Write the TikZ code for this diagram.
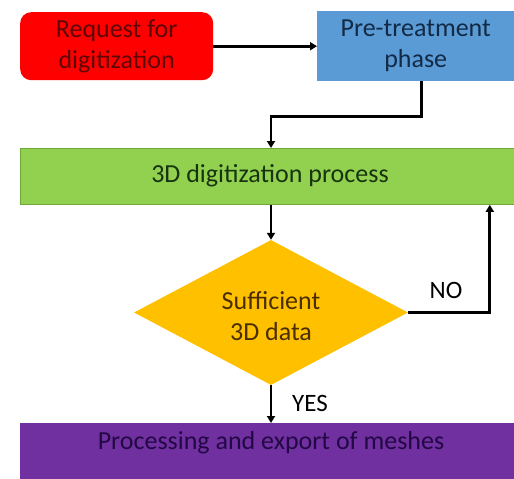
\documentclass[tikz,border=0pt]{standalone}
\usepackage{fontspec}
\setmainfont{Carlito}
\usetikzlibrary{shapes.geometric,arrows.meta,calc}
\definecolor{cred}{HTML}{FF0000}
\definecolor{credtxt}{HTML}{5E0606}
\definecolor{cblue}{HTML}{5B9BD5}
\definecolor{cbluetxt}{HTML}{122A46}
\definecolor{cgreen}{HTML}{92D050}
\definecolor{cgreenbd}{HTML}{6EA83A}
\definecolor{cgreentxt}{HTML}{173310}
\definecolor{cgold}{HTML}{FFC000}
\definecolor{cgoldtxt}{HTML}{4A2E00}
\definecolor{cpurple}{HTML}{7030A0}
\definecolor{cpurpletxt}{HTML}{220844}
\begin{document}
\begin{tikzpicture}[x=1pt,y=-1pt,
  txt/.style={font=\fontsize{26}{31}\selectfont, align=center},
  boxnode/.style={txt, inner sep=0pt, anchor=north west},
  arr/.style={draw=black, line width=2.8pt, -{Triangle[length=7pt,width=8pt]}},
  lbl/.style={font=\fontsize{25}{30}\selectfont, text=black, inner sep=0pt}]
\useasboundingbox (0,0) rectangle (514,479);
% boxes
\node[boxnode, fill=cred, text=credtxt, rounded corners=11pt, minimum width=193pt, minimum height=68pt] (req) at (20,12) {Request for\\digitization};
\node[boxnode, fill=cblue, text=cbluetxt, minimum width=197pt, minimum height=70pt] (pre) at (317,11) {Pre-treatment\\phase};
\node[boxnode, fill=cgreen, draw=cgreenbd, line width=0.8pt, minimum width=494pt, minimum height=56pt] (proc) at (20,148) {};
\node[txt, text=cgreentxt, inner sep=0pt] (proctxt) at (270,176) {3D digitization process};
\node[diamond, fill=cgold, inner sep=0pt, minimum width=274pt, minimum height=145pt] (dec) at (271,312.5) {};
\node[txt, text=cgoldtxt, inner sep=0pt] (dectxt) at (271,316) {Sufficient\\3D data};
\node[boxnode, fill=cpurple, minimum width=494pt, minimum height=62pt] (mesh) at (20,423) {};
\node[txt, text=cpurpletxt, inner sep=0pt] (meshtxt) at (271,443) {Processing and export of meshes};
% labels
\node[lbl] (no) at (446,290) {NO};
\node[lbl] (yes) at (310,403) {YES};
% connectors
\draw[arr] (req.east) -- (pre.west);
\draw[arr] ([xshift=5.5pt]pre.south) -- ++(0,35) -| (proc.north -| dec.north);
\draw[arr] (proc.south -| dec.north) -- (dec.north);
\draw[arr] (dec.east) -| ([xshift=-25pt]proc.south east);
\draw[arr] (dec.south) -- (mesh.north -| dec.south);
\end{tikzpicture}
\end{document}
